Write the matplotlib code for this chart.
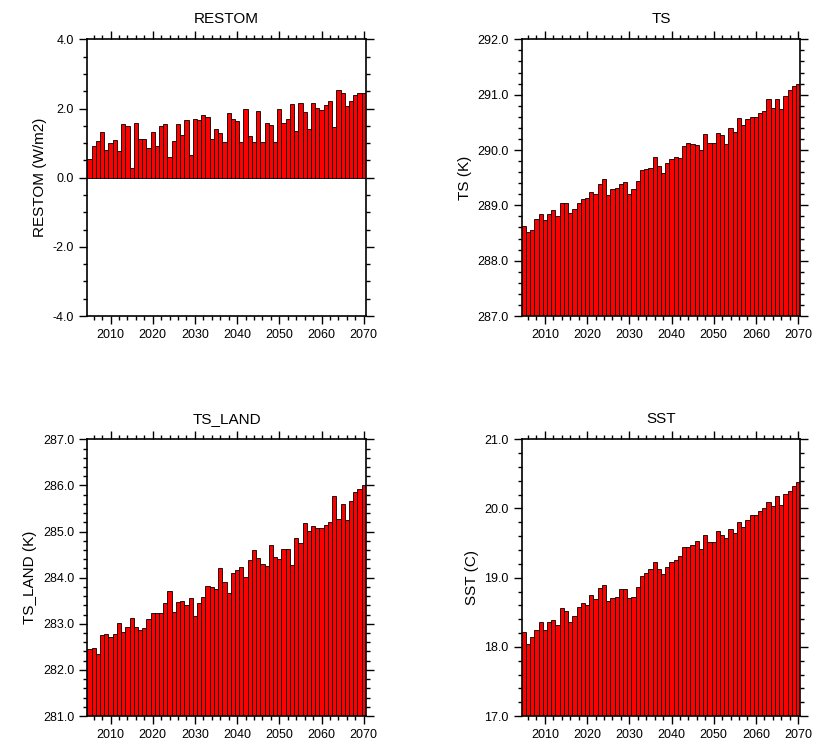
import numpy as np
import matplotlib
matplotlib.use('Agg')
import matplotlib.pyplot as plt
from matplotlib.ticker import MultipleLocator, FormatStrFormatter

plt.rcParams['font.family'] = ['Liberation Sans', 'DejaVu Sans']

years = np.arange(2005, 2071)

# annual means
restom = [0.55, 0.91, 1.06, 1.33, 0.79, 1.01, 1.10, 0.77, 1.56, 1.50,
          0.28, 1.57, 1.13, 1.11, 0.85, 1.31, 0.92, 1.50, 1.56, 0.60,
          1.05, 1.55, 1.23, 1.68, 0.67, 1.71, 1.67, 1.80, 1.75, 1.13,
          1.41, 1.29, 1.04, 1.86, 1.69, 1.64, 1.04, 1.98, 1.21, 1.04,
          1.94, 1.03, 1.59, 1.53, 1.04, 2.00, 1.57, 1.71, 2.12, 1.35,
          2.15, 1.91, 1.41, 2.17, 2.01, 1.96, 2.09, 2.23, 1.46, 2.53,
          2.44, 2.08, 2.23, 2.39, 2.45, 2.44]

ts = [288.63, 288.51, 288.55, 288.75, 288.84, 288.73, 288.84, 288.92, 288.81, 289.04,
      289.05, 288.87, 288.93, 289.04, 289.12, 289.13, 289.25, 289.21, 289.38, 289.48,
      289.19, 289.30, 289.32, 289.38, 289.43, 289.21, 289.30, 289.44, 289.63, 289.65,
      289.67, 289.87, 289.71, 289.58, 289.77, 289.84, 289.88, 289.86, 290.07, 290.13,
      290.10, 290.09, 290.00, 290.29, 290.13, 290.13, 290.30, 290.28, 290.11, 290.39,
      290.32, 290.57, 290.46, 290.56, 290.59, 290.60, 290.66, 290.71, 290.93, 290.76,
      290.93, 290.74, 290.98, 291.08, 291.15, 291.19]

ts_land = [282.45, 282.48, 282.35, 282.76, 282.78, 282.71, 282.78, 283.01, 282.83, 282.94,
           283.12, 282.92, 282.87, 282.91, 283.11, 283.24, 283.24, 283.24, 283.44, 283.72,
           283.25, 283.48, 283.49, 283.41, 283.57, 283.17, 283.46, 283.58, 283.83, 283.80,
           283.75, 284.20, 283.91, 283.67, 284.10, 284.16, 284.23, 284.02, 284.39, 284.61,
           284.43, 284.30, 284.25, 284.71, 284.44, 284.41, 284.62, 284.62, 284.28, 284.86,
           284.76, 285.19, 285.02, 285.12, 285.08, 285.08, 285.14, 285.21, 285.77, 285.28,
           285.59, 285.24, 285.67, 285.85, 285.92, 286.00]

sst = [18.22, 18.04, 18.14, 18.24, 18.36, 18.25, 18.36, 18.39, 18.32, 18.56,
       18.52, 18.36, 18.45, 18.57, 18.63, 18.60, 18.75, 18.69, 18.85, 18.89,
       18.67, 18.70, 18.72, 18.83, 18.83, 18.71, 18.72, 18.87, 19.02, 19.07,
       19.13, 19.22, 19.12, 19.05, 19.16, 19.22, 19.26, 19.31, 19.45, 19.44,
       19.47, 19.53, 19.42, 19.62, 19.52, 19.52, 19.67, 19.62, 19.57, 19.70,
       19.64, 19.80, 19.73, 19.84, 19.90, 19.91, 19.96, 20.00, 20.09, 20.04,
       20.18, 20.05, 20.21, 20.25, 20.33, 20.38]

fig = plt.figure(figsize=(8.23, 7.45), dpi=100)

# (values, title, ylabel, ymin, ymax, major, minor, base, axes rect)
panels = [
    (restom, 'RESTOM', 'RESTOM (W/m2)', -4, 4, 2.0, 0.5, 0, [0.1061, 0.5758, 0.3384, 0.3714]),
    (ts, 'TS', 'TS (K)', 287, 292, 1.0, 0.2, 287, [0.6339, 0.5758, 0.3384, 0.3714]),
    (ts_land, 'TS_LAND', 'TS_LAND (K)', 281, 287, 1.0, 0.2, 281, [0.1061, 0.0389, 0.3384, 0.3714]),
    (sst, 'SST', 'SST (C)', 17, 21, 1.0, 0.2, 17, [0.6339, 0.0389, 0.3384, 0.3714]),
]

for vals, title, ylab, ymin, ymax, major, minor, base, rect in panels:
    ax = fig.add_axes(rect)
    vals = np.array(vals)
    ax.bar(years, vals - base, bottom=base, width=1.0,
           color='#ff0000', edgecolor='black', linewidth=0.6)
    ax.set_xlim(2004.5, 2070.5)
    ax.set_ylim(ymin, ymax)
    ax.xaxis.set_major_locator(MultipleLocator(10))
    ax.xaxis.set_minor_locator(MultipleLocator(2))
    ax.yaxis.set_major_locator(MultipleLocator(major))
    ax.yaxis.set_minor_locator(MultipleLocator(minor))
    ax.yaxis.set_major_formatter(FormatStrFormatter('%.1f'))
    ax.tick_params(which='both', direction='out', top=True, right=True,
                   labelsize=9, width=1.0, colors='black')
    ax.tick_params(which='major', length=6)
    ax.tick_params(which='minor', length=3)
    for s in ax.spines.values():
        s.set_linewidth(1.2)
    ax.set_title(title, fontsize=11, pad=12)
    ax.set_ylabel(ylab, fontsize=11)

fig.savefig('out.png', dpi=100)
